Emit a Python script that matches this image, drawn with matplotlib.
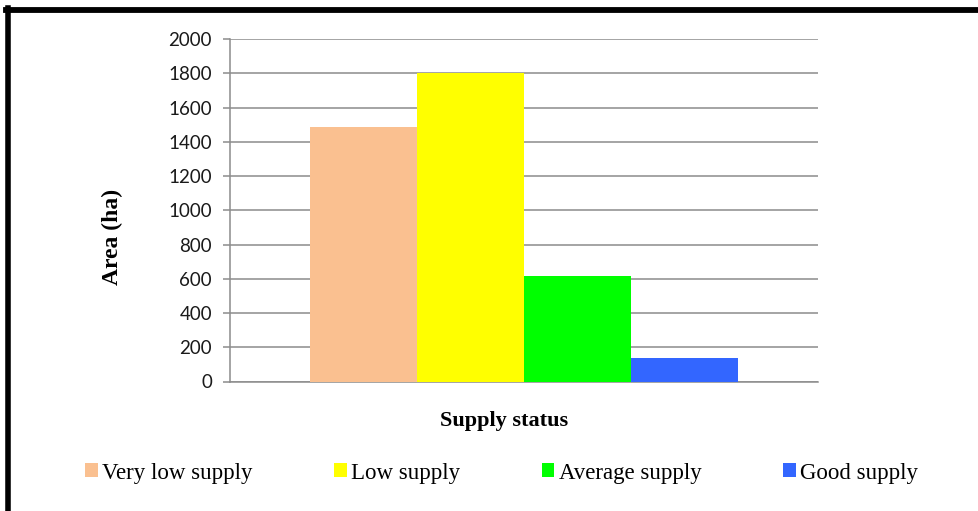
from matplotlib import pyplot as plt
from matplotlib.lines import Line2D

# data
series = ['Very low supply', 'Low supply', 'Average supply', 'Good supply']
area = [1488, 1802, 617, 140]
colors = ['#FAC090', '#FFFF00', '#00FF00', '#3366FF']
yticks = [0, 200, 400, 600, 800, 1000, 1200, 1400, 1600, 1800, 2000]

W, H = 979, 511
fig = plt.figure(figsize=(W / 100, H / 100), dpi=100)
ax = fig.add_axes([230 / W, 1 - 381.5 / H, (818 - 230) / W, (381.5 - 39) / H])

grid_c = '#8C8C8C'
for i, (name, v, c) in enumerate(zip(series, area, colors)):
    ax.bar(i, v, width=1.0, color=c, label=name, zorder=3)

ax.set_ylim(0, 2000)
ax.set_xlim(-0.5 - 80 / 107, 3.5 + 80 / 107)
ax.set_yticks(yticks)
ax.set_yticklabels([str(t) for t in yticks], fontfamily='Lato', fontsize=13.5, color='#1a1a1a')
ax.set_xticks([])
ax.yaxis.grid(True, color=grid_c, linewidth=1.1, zorder=0)
ax.tick_params(axis='y', length=5, width=1.1, color=grid_c, pad=8)
for s in ['top', 'right']:
    ax.spines[s].set_visible(False)
for s in ['left', 'bottom']:
    ax.spines[s].set_color(grid_c)
    ax.spines[s].set_linewidth(1.1)

fig.text(112 / W, 1 - 237 / H, 'Area (ha)', rotation=90, ha='center', va='center',
         fontfamily='Liberation Serif', fontweight='bold', fontsize=17)
fig.text(504 / W, 1 - 421 / H, 'Supply status', ha='center', va='center',
         fontfamily='Liberation Serif', fontweight='bold', fontsize=16)

leg = fig.legend(loc='center', bbox_to_anchor=(501.5 / W, 1 - 473 / H), ncol=4,
                 frameon=False, prop={'family': 'Liberation Serif', 'size': 16.5},
                 handlelength=0.55, handleheight=0.55, handletextpad=0.2,
                 columnspacing=3.55)

# black frame lines on top and left
fig.add_artist(Line2D([8 / W, 8 / W], [0, 1 - 8 / H], transform=fig.transFigure,
                      color='black', linewidth=4))
fig.add_artist(Line2D([6 / W, 1], [1 - 10.5 / H, 1 - 10.5 / H], transform=fig.transFigure,
                      color='black', linewidth=4.2))

fig.savefig('out.png', dpi=100)
